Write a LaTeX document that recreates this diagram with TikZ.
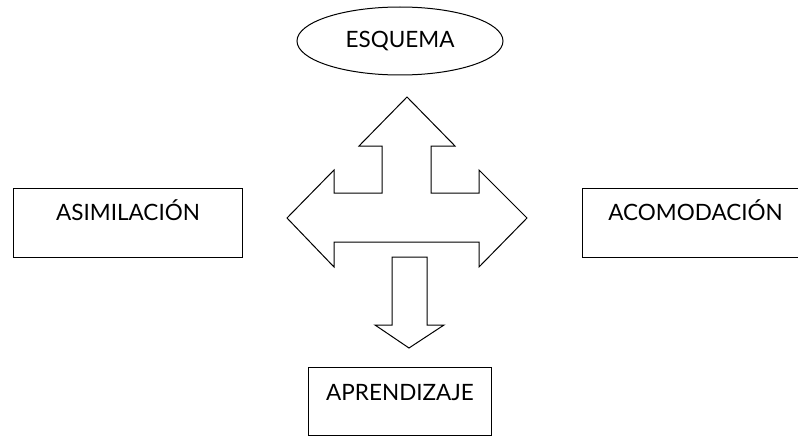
\documentclass[tikz,border=0pt]{standalone}
\usepackage{fontspec}
\setmainfont{Lato}
\usetikzlibrary{shapes.geometric}
\begin{document}
\begin{tikzpicture}[x=1pt,y=-1pt,
  lbl/.style={font=\fontsize{22.5}{26}\selectfont},
  box/.style={draw, line width=1.1pt, rectangle, inner sep=0pt, anchor=north west, lbl},
  shp/.style={draw, line width=1pt, line join=miter, fill=white}]
\useasboundingbox (0,0) rectangle (798,436);
\node[draw, ellipse, line width=1pt, inner sep=0pt, minimum width=206pt, minimum height=68pt, lbl] (esq) at (400,41) {ESQUEMA};
\node[box, minimum width=229pt, text height=32pt, text depth=37pt] (asim) at (13,188) {ASIMILACIÓN};
\node[box, minimum width=226pt, text height=32pt, text depth=37pt] (acom) at (582,188) {ACOMODACIÓN};
\node[box, minimum width=183pt, text height=33pt, text depth=35pt] (apre) at (308,367) {APRENDIZAJE};
% cross arrow
\draw[shp] (407,97) -- (455,146) -- (431,146) -- (431,193) -- (479,193) -- (479,170)
  -- (527,218) -- (479,267) -- (479,242) -- (334,242) -- (334,267) -- (287,218)
  -- (334,170) -- (334,193) -- (382,193) -- (382,146) -- (359,146) -- cycle;
% down arrow
\draw[shp] (392,257) -- (427,257) -- (427,325) -- (444,325) -- (409,348) -- (375,325) -- (392,325) -- cycle;
\end{tikzpicture}
\end{document}
